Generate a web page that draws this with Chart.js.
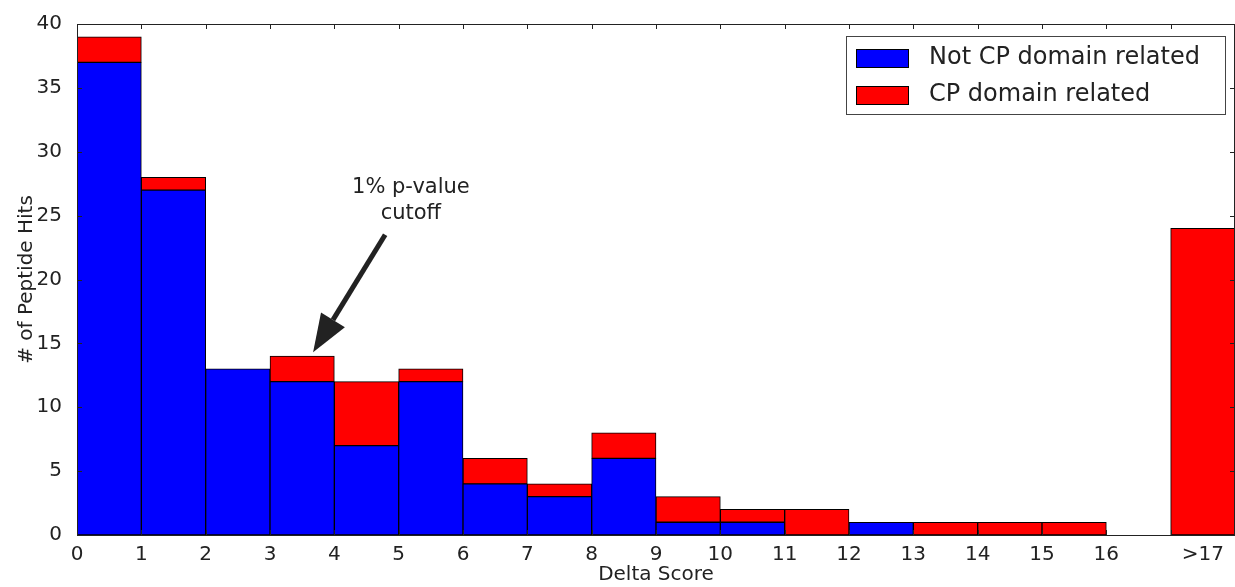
<!DOCTYPE html>
<html>
<head>
<meta charset="utf-8">
<script src="https://cdn.jsdelivr.net/npm/chart.js@4.4.0/dist/chart.umd.min.js"></script>
<style>
html, body { margin: 0; padding: 0; background: #fff; }
</style>
</head>
<body>
<canvas id="myChart" width="1235" height="587"></canvas>
<script>
// histogram bins (left edge), last bin is the ">17" bucket
var binStart = [0, 1, 2, 3, 4, 5, 6, 7, 8, 9, 10, 11, 12, 13, 14, 15, 16, 17]
var not_cp_related = [37, 27, 13, 12, 7, 12, 4, 3, 6, 1, 1, 0, 1, 0, 0, 0, 0, 0]
var cp_related = [2, 1, 0, 2, 5, 1, 2, 1, 2, 2, 1, 2, 0, 1, 1, 1, 0, 24]

var xTickValues = [0, 1, 2, 3, 4, 5, 6, 7, 8, 9, 10, 11, 12, 13, 14, 15, 16, 17.5]
var xTickLabels = ['0', '1', '2', '3', '4', '5', '6', '7', '8', '9', '10', '11', '12', '13', '14', '15', '16', '>17']
var xTickMarks = [0, 1, 2, 3, 4, 5, 6, 7, 8, 9, 10, 11, 12, 13, 14, 15, 16, 17]
var yTickMarks = [0, 5, 10, 15, 20, 25, 30, 35, 40]

var seriesNames = ['Not CP domain related', 'CP domain related']
var seriesColors = ['#0000ff', '#ff0000']
var noteLines = ['1% p-value', 'cutoff']

var FONT = 'DejaVu Sans'
var INK = '#222222'

function toPoints(values) {
    return binStart.map(function (b, i) { return {x: b + 0.5, y: values[i]} })
}

// frame, inward ticks, legend box and the arrow note
var extras = {
    id: 'extras',
    afterDraw: function (chart) {
        var ctx = chart.ctx
        var a = chart.chartArea
        var xs = chart.scales.x
        var ys = chart.scales.y
        ctx.save()
        ctx.strokeStyle = INK
        ctx.lineWidth = 1
        ctx.strokeRect(a.left + 0.5, a.top + 0.5, a.right - a.left - 1, a.bottom - a.top)

        ctx.beginPath()
        xTickMarks.forEach(function (v) {
            var px = Math.round(xs.getPixelForValue(v)) + 0.5
            ctx.moveTo(px, a.bottom); ctx.lineTo(px, a.bottom - 5)
            ctx.moveTo(px, a.top); ctx.lineTo(px, a.top + 5)
        })
        yTickMarks.forEach(function (v) {
            var py = Math.round(ys.getPixelForValue(v)) + 0.5
            ctx.moveTo(a.left, py); ctx.lineTo(a.left + 5, py)
            ctx.moveTo(a.right, py); ctx.lineTo(a.right - 5, py)
        })
        ctx.stroke()

        // legend
        var lx = a.right - 389, ly = a.top + 12
        ctx.fillStyle = '#fff'
        ctx.fillRect(lx, ly, 379, 78)
        ctx.strokeStyle = '#444'
        ctx.strokeRect(lx + 0.5, ly + 0.5, 379, 78)
        ctx.font = '24px "' + FONT + '"'
        ctx.textBaseline = 'middle'
        ctx.textAlign = 'left'
        seriesNames.forEach(function (name, i) {
            var ry = ly + 13 + i * 37
            ctx.fillStyle = seriesColors[i]
            ctx.fillRect(lx + 10, ry, 52, 18)
            ctx.strokeStyle = '#000'
            ctx.strokeRect(lx + 10.5, ry + 0.5, 52, 18)
            ctx.fillStyle = INK
            ctx.fillText(name, lx + 83, ry + 9)
        })

        // arrow note
        var tipX = xs.getPixelForValue(3.67), tipY = ys.getPixelForValue(14.3)
        var tailX = xs.getPixelForValue(4.79), tailY = ys.getPixelForValue(23.5)
        var ang = Math.atan2(tipY - tailY, tipX - tailX)
        var headLen = 38, headHalf = 14
        var baseX = tipX - headLen * Math.cos(ang), baseY = tipY - headLen * Math.sin(ang)
        ctx.strokeStyle = INK
        ctx.lineWidth = 5
        ctx.beginPath()
        ctx.moveTo(tailX, tailY)
        ctx.lineTo(baseX, baseY)
        ctx.stroke()
        ctx.fillStyle = INK
        ctx.beginPath()
        ctx.moveTo(tipX, tipY)
        ctx.lineTo(baseX + headHalf * Math.sin(ang), baseY - headHalf * Math.cos(ang))
        ctx.lineTo(baseX - headHalf * Math.sin(ang), baseY + headHalf * Math.cos(ang))
        ctx.closePath()
        ctx.fill()

        ctx.font = '21px "' + FONT + '"'
        ctx.textAlign = 'center'
        ctx.fillText(noteLines[0], xs.getPixelForValue(5.19), ys.getPixelForValue(27.2))
        ctx.fillText(noteLines[1], xs.getPixelForValue(5.19), ys.getPixelForValue(25.2))
        ctx.restore()
    }
}

var ctx = document.getElementById('myChart').getContext('2d');
var myChart = new Chart(ctx, {
    type: 'bar',
    data: {
        datasets: [{
            label: seriesNames[0],
            data: toPoints(not_cp_related),
            backgroundColor: seriesColors[0],
            borderColor: '#000',
            borderWidth: 1,
            borderSkipped: false,
            barPercentage: 1,
            categoryPercentage: 1
        }, {
            label: seriesNames[1],
            data: toPoints(cp_related),
            backgroundColor: seriesColors[1],
            borderColor: '#000',
            borderWidth: 1,
            borderSkipped: false,
            barPercentage: 1,
            categoryPercentage: 1
        }]
    },
    options: {
        responsive: false,
        animation: false,
        layout: {padding: {top: 24, left: 0, right: 0, bottom: 0}},
        plugins: {
            legend: {display: false},
            tooltip: {enabled: false}
        },
        scales: {
            x: {
                type: 'linear',
                stacked: true,
                offset: false,
                min: 0,
                max: 18,
                grid: {display: false, offset: false},
                border: {display: false},
                afterBuildTicks: function (axis) {
                    axis.ticks = xTickValues.map(function (v) { return {value: v} })
                },
                afterFit: function (scale) { scale.height = 52 },
                ticks: {
                    autoSkip: false,
                    maxRotation: 0,
                    padding: 0,
                    color: INK,
                    font: {family: FONT, size: 20},
                    callback: function (v) {
                        var i = xTickValues.indexOf(v)
                        return i < 0 ? '' : xTickLabels[i]
                    }
                },
                title: {
                    display: true,
                    text: 'Delta Score',
                    color: INK,
                    padding: 0,
                    font: {family: FONT, size: 20}
                }
            },
            y: {
                stacked: true,
                min: 0,
                max: 40,
                grid: {display: false},
                border: {display: false},
                afterFit: function (scale) { scale.width = 77 },
                ticks: {
                    stepSize: 5,
                    padding: 7,
                    color: INK,
                    font: {family: FONT, size: 20}
                },
                title: {
                    display: true,
                    text: '# of Peptide Hits',
                    color: INK,
                    padding: {top: 15, bottom: 0},
                    font: {family: FONT, size: 20}
                }
            }
        }
    },
    plugins: [extras]
});
</script>
</body>
</html>
